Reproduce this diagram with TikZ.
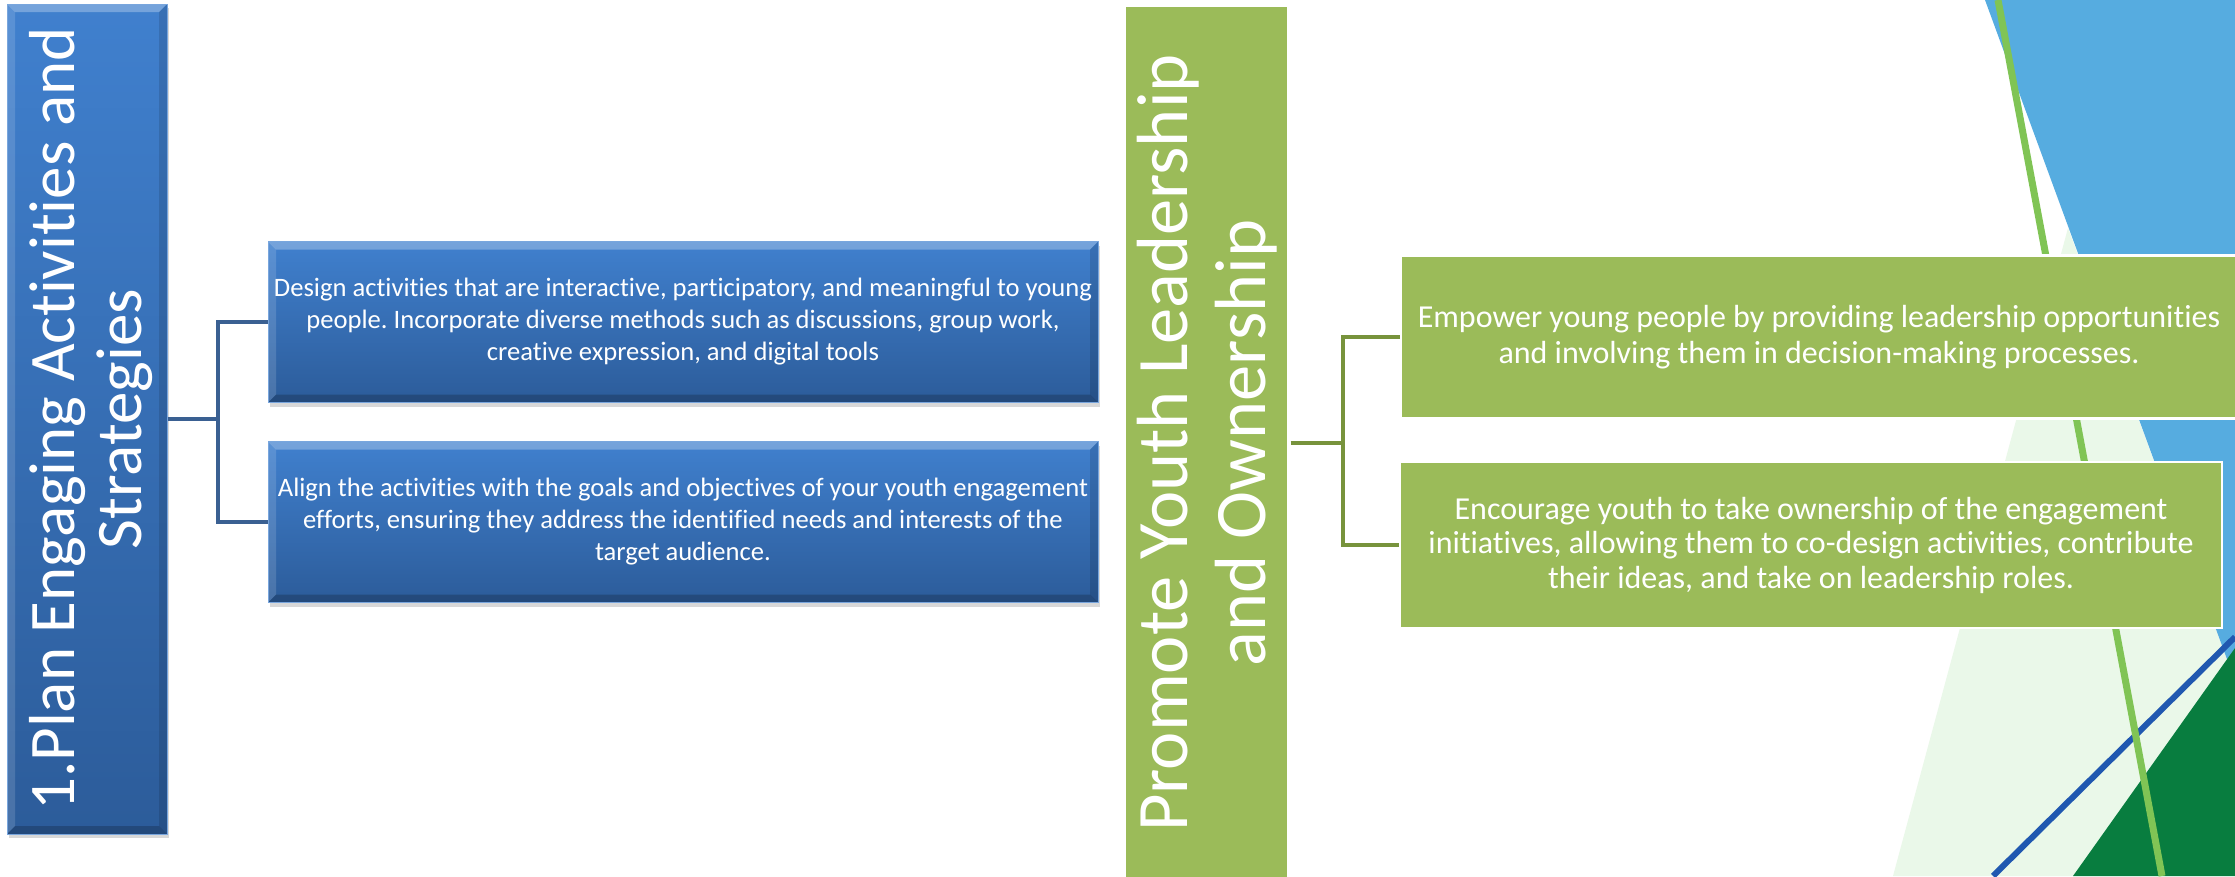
\documentclass[tikz,border=0pt]{standalone}
\usepackage{fontspec}
\setmainfont{Carlito}[Ligatures=NoCommon]
\usetikzlibrary{positioning,calc,shadows}
\definecolor{planblue}{RGB}{64,128,206}
\definecolor{plandark}{RGB}{44,92,154}
\definecolor{planline}{RGB}{58,96,146}
\definecolor{youthgreen}{RGB}{155,187,89}
\definecolor{youthline}{RGB}{119,147,60}
\definecolor{skyblue}{RGB}{86,172,224}
\definecolor{palegreen}{RGB}{234,248,233}
\definecolor{leafgreen}{RGB}{128,196,85}
\definecolor{deepblue}{RGB}{32,88,176}
\definecolor{deepgreen}{RGB}{8,125,63}
\tikzstyle{bevel}=[path picture={%
  \fill[white,opacity=0.28]
    (path picture bounding box.north west) -- (path picture bounding box.north east)
    -- ([shift={(-8pt,-8pt)}]path picture bounding box.north east)
    -- ([shift={(8pt,-8pt)}]path picture bounding box.north west) -- cycle;
  \fill[white,opacity=0.14]
    (path picture bounding box.north west) -- (path picture bounding box.south west)
    -- ([shift={(8pt,8pt)}]path picture bounding box.south west)
    -- ([shift={(8pt,-8pt)}]path picture bounding box.north west) -- cycle;
  \fill[black,opacity=0.12]
    (path picture bounding box.north east) -- (path picture bounding box.south east)
    -- ([shift={(-8pt,8pt)}]path picture bounding box.south east)
    -- ([shift={(-8pt,-8pt)}]path picture bounding box.north east) -- cycle;
  \fill[black,opacity=0.2]
    (path picture bounding box.south west) -- (path picture bounding box.south east)
    -- ([shift={(-8pt,8pt)}]path picture bounding box.south east)
    -- ([shift={(8pt,8pt)}]path picture bounding box.south west) -- cycle;
  }]
\frenchspacing

\begin{document}
\begin{tikzpicture}[x=1pt,y=-1pt,
    plan/.style={bevel,draw=planblue!70!white,line width=1pt,top color=planblue,bottom color=plandark,
      drop shadow={shadow xshift=2pt,shadow yshift=-4pt,opacity=0.3},inner sep=0pt,text=white},
    youth/.style={fill=youthgreen,draw=white,line width=2.5pt,inner sep=0pt,text=white},
    link/.style={line width=4pt}]
  \useasboundingbox (0,0) rectangle (2235,876);
  \fill[white] (0,0) rectangle (2235,876);

  % backdrop on the right
  \fill[palegreen] (2068,228) -- (2235,681) -- (2235,876) -- (1893,876) -- cycle;
  \fill[skyblue] (1985,0) -- (2235,0) -- (2235,681) -- cycle;
  \fill[deepgreen] (2235,648) -- (2235,876) -- (2073,876) -- cycle;
  \draw[deepblue,line width=6pt] (2235,637) -- (1993,876);
  \draw[leafgreen,line width=7pt] (1998,0) -- (2162,876);

  % 1. plan
  \node[plan,minimum width=160,minimum height=830] (p_0) at (87,419)
    {\rotatebox{90}{\raisebox{-8pt}[\height][\depth]{\fontsize{65}{67}\selectfont
      \begin{tabular}{@{}c@{}}1.Plan Engaging Activities and\\Strategies\end{tabular}}}};
  \node[plan,minimum width=830,minimum height=161,align=center,
    font=\fontsize{26.6}{32}\selectfont] (p_1) at (683,322)
    {Design activities that are interactive, participatory, and meaningful to young\\
     people. Incorporate diverse methods such as discussions, group work,\\
     creative expression, and digital tools};
  \node[plan,minimum width=830,minimum height=161,align=center,
    font=\fontsize{26.6}{32}\selectfont] (p_2) at (683,522)
    {Align the activities with the goals and objectives of your youth engagement\\
     efforts, ensuring they address the identified needs and interests of the\\
     target audience.};

  \coordinate (p_j) at (218,419);
  \draw[link,planline] (p_0.east) -- (p_j);
  \draw[link,planline] (p_1.west) -| (p_j) |- (p_2.west);

  % youth leadership
  \node[fill=youthgreen,minimum width=161,minimum height=872,inner sep=0pt,text=white] (y_0) at (1206,443)
    {\rotatebox{90}{\raisebox{-5pt}[\height][\depth]{\fontsize{72.5}{78}\selectfont
      \begin{tabular}{@{}c@{}}Promote Youth Leadership\\and Ownership\end{tabular}}}};
  \node[youth,minimum width=836,minimum height=163,align=center,
    font=\fontsize{32}{35.5}\selectfont] (y_1) at (1819,337)
    {Empower young people by providing leadership opportunities\\
     and involving them in decision-making processes.};
  \node[youth,minimum width=822,minimum height=166,align=center,
    font=\fontsize{32}{34.5}\selectfont] (y_2) at (1811,545)
    {Encourage youth to take ownership of the engagement\\
     initiatives, allowing them to co-design activities, contribute\\
     their ideas, and take on leadership roles.};

  \coordinate (y_j) at (1343,443);
  \draw[link,youthline] ([xshift=4pt]y_0.east) -- (y_j);
  \draw[link,youthline] (y_1.west) -| (y_j) |- (y_2.west);
\end{tikzpicture}
\end{document}
